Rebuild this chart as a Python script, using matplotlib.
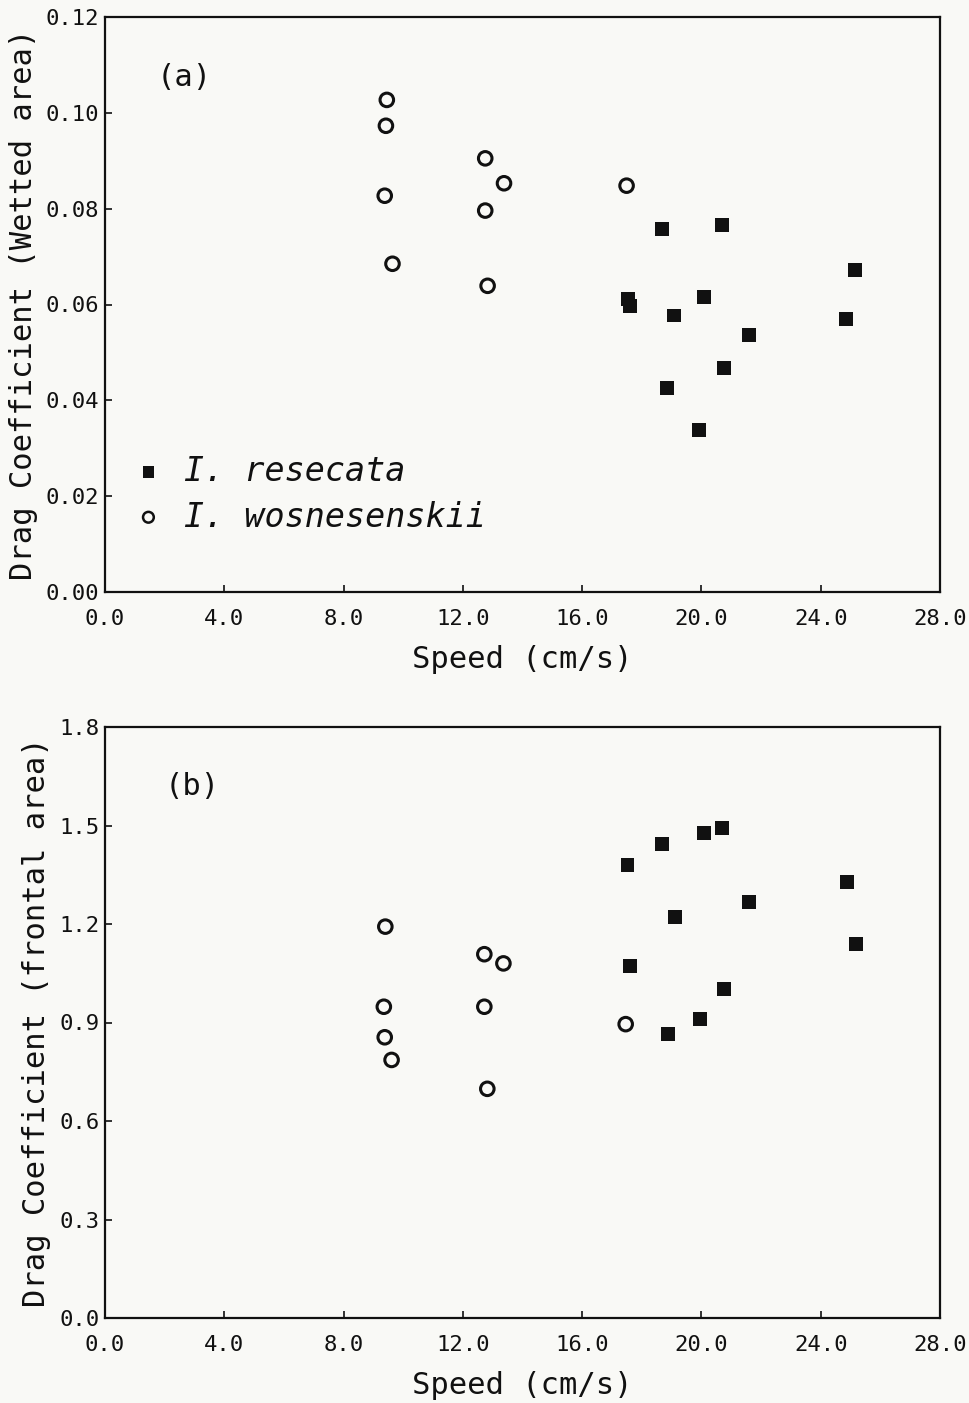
import matplotlib
matplotlib.use("Agg")
import matplotlib.pyplot as plt
from matplotlib.ticker import FixedLocator, FormatStrFormatter

# ---------------- data ----------------
# Panel (a): drag coefficient based on wetted area
res_speed_a = [17.54, 17.60, 18.69, 18.86, 19.09, 19.93, 20.09, 20.69, 20.75, 21.61, 24.85, 25.15]
res_cd_a = [0.0612, 0.0597, 0.0758, 0.0425, 0.0577, 0.0339, 0.0616, 0.0765, 0.0467, 0.0537, 0.0569, 0.0672]
wos_speed_a = [9.45, 9.42, 9.38, 9.64, 12.75, 13.38, 12.75, 12.83, 17.49]
wos_cd_a = [0.1027, 0.0973, 0.0827, 0.0685, 0.0905, 0.0853, 0.0796, 0.0639, 0.0848]

# Panel (b): drag coefficient based on frontal area
res_speed_b = [20.70, 20.10, 18.68, 17.52, 24.87, 21.61, 19.10, 25.17, 17.60, 20.77, 19.96, 18.87]
res_cd_b = [1.493, 1.476, 1.445, 1.379, 1.327, 1.267, 1.221, 1.139, 1.073, 1.002, 0.910, 0.865]
wos_speed_b = [9.40, 12.72, 13.36, 9.35, 12.72, 9.38, 9.61, 12.82, 17.46]
wos_cd_b = [1.192, 1.108, 1.080, 0.948, 0.948, 0.855, 0.786, 0.698, 0.895]

x_ticks = [0.0, 4.0, 8.0, 12.0, 16.0, 20.0, 24.0, 28.0]
ya_ticks = [0.00, 0.02, 0.04, 0.06, 0.08, 0.10, 0.12]
yb_ticks = [0.0, 0.3, 0.6, 0.9, 1.2, 1.5, 1.8]

species = ["I. resecata", "I. wosnesenskii"]
xlabel = "Speed (cm/s)"
ylabel_a = "Drag Coefficient (Wetted area)"
ylabel_b = "Drag Coefficient (frontal area)"

# ---------------- figure ----------------
W, H = 969, 1403
bg = "#f9f9f6"
ink = "#111111"
plt.rcParams["font.family"] = ["DejaVu Sans Mono", "DejaVu Sans"]
fig = plt.figure(figsize=(W / 100, H / 100), dpi=100, facecolor=bg)

def px_axes(left, top, right, bottom):
    return fig.add_axes([left / W, 1 - bottom / H, (right - left) / W, (bottom - top) / H])

ax_a = px_axes(105, 17, 940, 592)
ax_b = px_axes(105, 727, 940, 1318)

tick_fs = 16
label_fs = 22

def style(ax, yticks, yfmt, ylabel):
    ax.set_facecolor(bg)
    ax.set_xlim(0, 28)
    ax.set_ylim(yticks[0], yticks[-1])
    ax.xaxis.set_major_locator(FixedLocator(x_ticks))
    ax.yaxis.set_major_locator(FixedLocator(yticks))
    ax.xaxis.set_major_formatter(FormatStrFormatter("%.1f"))
    ax.yaxis.set_major_formatter(FormatStrFormatter(yfmt))
    ax.tick_params(direction="in", length=5, width=1.2, labelsize=tick_fs,
                   top=False, right=False, colors=ink)
    ax.tick_params(axis="x", pad=12)
    ax.tick_params(axis="y", pad=4)
    for s in ax.spines.values():
        s.set_linewidth(1.6)
        s.set_color(ink)
    ax.set_xlabel(xlabel, fontsize=label_fs, labelpad=12, color=ink)
    ax.set_ylabel(ylabel, fontsize=label_fs, labelpad=6, color=ink)

# Panel (a)
ax_a.scatter(res_speed_a, res_cd_a, marker="s", s=100, c=ink, edgecolors="none", zorder=3)
ax_a.scatter(wos_speed_a, wos_cd_a, marker="o", s=95, facecolors="none", edgecolors=ink,
             linewidths=2.2, zorder=3)
style(ax_a, ya_ticks, "%.2f", ylabel_a)
ax_a.text(0.062, 0.895, "(a)", transform=ax_a.transAxes, fontsize=label_fs, ha="left",
          va="center", color=ink)

# legend built manually in axes coordinates
ax_a.scatter([0.052], [0.209], transform=ax_a.transAxes, marker="s", s=70, c=ink,
             edgecolors="none", clip_on=False)
ax_a.scatter([0.052], [0.130], transform=ax_a.transAxes, marker="o", s=60, facecolors="none",
             edgecolors=ink, linewidths=1.8, clip_on=False)
ax_a.text(0.095, 0.209, species[0], transform=ax_a.transAxes, fontsize=24,
          style="italic", ha="left", va="center", color=ink)
ax_a.text(0.095, 0.130, species[1], transform=ax_a.transAxes, fontsize=24,
          style="italic", ha="left", va="center", color=ink)

# Panel (b)
ax_b.scatter(res_speed_b, res_cd_b, marker="s", s=100, c=ink, edgecolors="none", zorder=3)
ax_b.scatter(wos_speed_b, wos_cd_b, marker="o", s=95, facecolors="none", edgecolors=ink,
             linewidths=2.2, zorder=3)
style(ax_b, yb_ticks, "%.1f", ylabel_b)
ax_b.text(0.072, 0.90, "(b)", transform=ax_b.transAxes, fontsize=label_fs, ha="left",
          va="center", color=ink)

fig.savefig("out.png", dpi=100, facecolor=bg)
